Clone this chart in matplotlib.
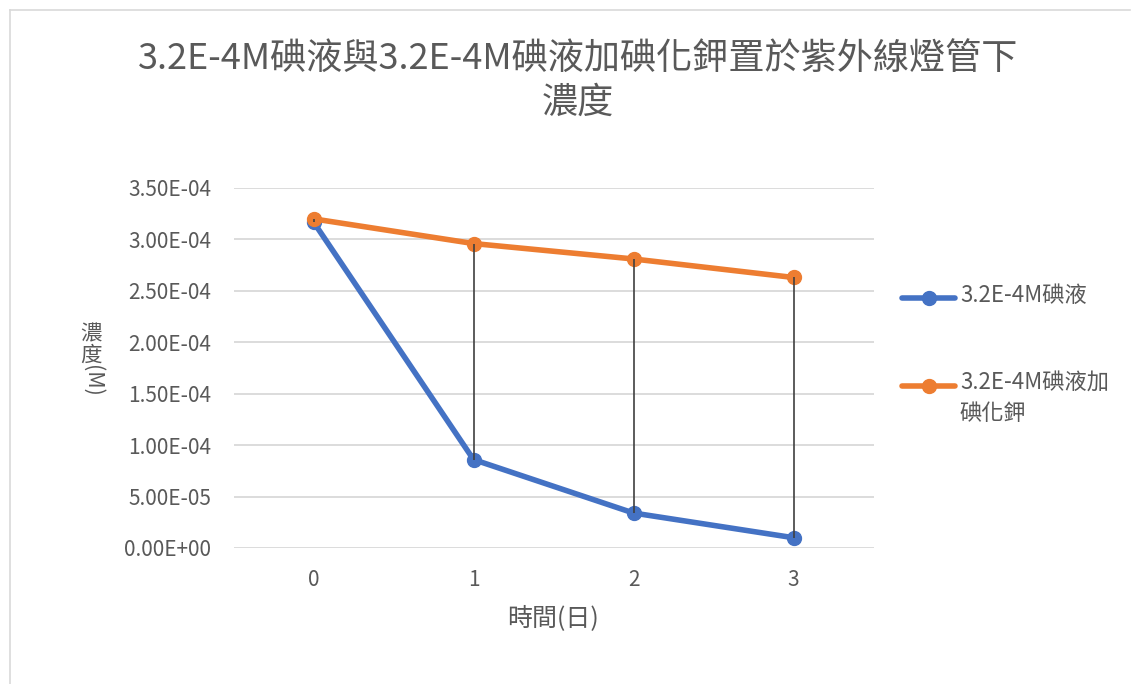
import matplotlib
matplotlib.use("Agg")
import matplotlib.pyplot as plt
from matplotlib.lines import Line2D
from matplotlib.ticker import FuncFormatter, MultipleLocator

plt.rcParams['font.family'] = ['Noto Sans CJK TC', 'DejaVu Sans']

# Data
days = [0, 1, 2, 3]
iodine = [3.17e-4, 8.6e-5, 3.4e-5, 1.0e-5]
iodine_ki = [3.20e-4, 2.96e-4, 2.81e-4, 2.63e-4]
series_names = ["3.2E-4M碘液", "3.2E-4M碘液加\n碘化鉀"]
title_lines = ["3.2E-4M碘液與3.2E-4M碘液加碘化鉀置於紫外線燈管下", "濃度"]
xlabel = "時間(日)"

BLUE = "#4472C4"
ORANGE = "#ED7D31"
TXT = "#595959"
GRID = "#D9D9D9"

W, H = 1131, 684
fig = plt.figure(figsize=(W / 100, H / 100), dpi=100)
fig.patch.set_facecolor("white")

def fx(px):
    return px / W

def fy(py):
    return 1 - py / H

# chart frame (top and left edges)
fig.add_artist(Line2D([fx(10), fx(1130)], [fy(10), fy(10)], color=GRID, lw=1.2))
fig.add_artist(Line2D([fx(10), fx(10)], [fy(10), fy(684)], color=GRID, lw=1.2))

ax = fig.add_axes([fx(233.5), fy(548), fx(873.5) - fx(233.5), fy(188) - fy(548)])
ax.set_xlim(-0.5, 3.5)
ax.set_ylim(0, 3.5e-4)
ax.yaxis.set_major_locator(MultipleLocator(5e-5))
ax.yaxis.set_major_formatter(FuncFormatter(lambda v, p: f"{v:.2E}"))
ax.set_xticks(days)
ax.set_xticklabels([str(d) for d in days])
for s in ax.spines.values():
    s.set_visible(False)
ax.grid(axis="y", color=GRID, lw=1.3, zorder=0)
ax.tick_params(length=0, labelsize=15, labelcolor=TXT)
ax.tick_params(axis="y", pad=16)
ax.tick_params(axis="x", pad=15)

ax.plot(days, iodine, color=BLUE, lw=4, marker="o", ms=10, zorder=2, solid_capstyle="round")
ax.plot(days, iodine_ki, color=ORANGE, lw=4, marker="o", ms=10, zorder=3, solid_capstyle="round")

# high-low lines between the two series
lows = [min(a, b) for a, b in zip(iodine, iodine_ki)]
highs = [max(a, b) for a, b in zip(iodine, iodine_ki)]
ax.vlines(days, lows, highs, color="#404040", lw=1.2, zorder=4)

# title
fig.text(fx(578), fy(60), title_lines[0], ha="center", va="center", fontsize=26, color=TXT)
fig.text(fx(578), fy(103), title_lines[1], ha="center", va="center", fontsize=26, color=TXT)

# axis titles
fig.text(fx(553), fy(618), xlabel, ha="center", va="center", fontsize=18, color=TXT)
fig.text(fx(91), fy(334), "濃", ha="center", va="center", fontsize=15.5, color=TXT)
fig.text(fx(91), fy(356), "度", ha="center", va="center", fontsize=15.5, color=TXT)
fig.text(fx(92), fy(381), "(M)", ha="center", va="center", fontsize=15.5, color=TXT, rotation=270)

# legend
legend_y = [298, 386]
for color, name, ly in zip([BLUE, ORANGE], series_names, legend_y):
    fig.add_artist(Line2D([fx(902), fx(955)], [fy(ly), fy(ly)], color=color, lw=4,
                          solid_capstyle="round"))
    fig.add_artist(Line2D([fx(928.5)], [fy(ly)], color=color, marker="o", ms=10, lw=0))
    fig.text(fx(960), fy(ly - 14), name, ha="left", va="top", fontsize=16, color=TXT,
             linespacing=1.4)

fig.savefig("out.png", dpi=100)
